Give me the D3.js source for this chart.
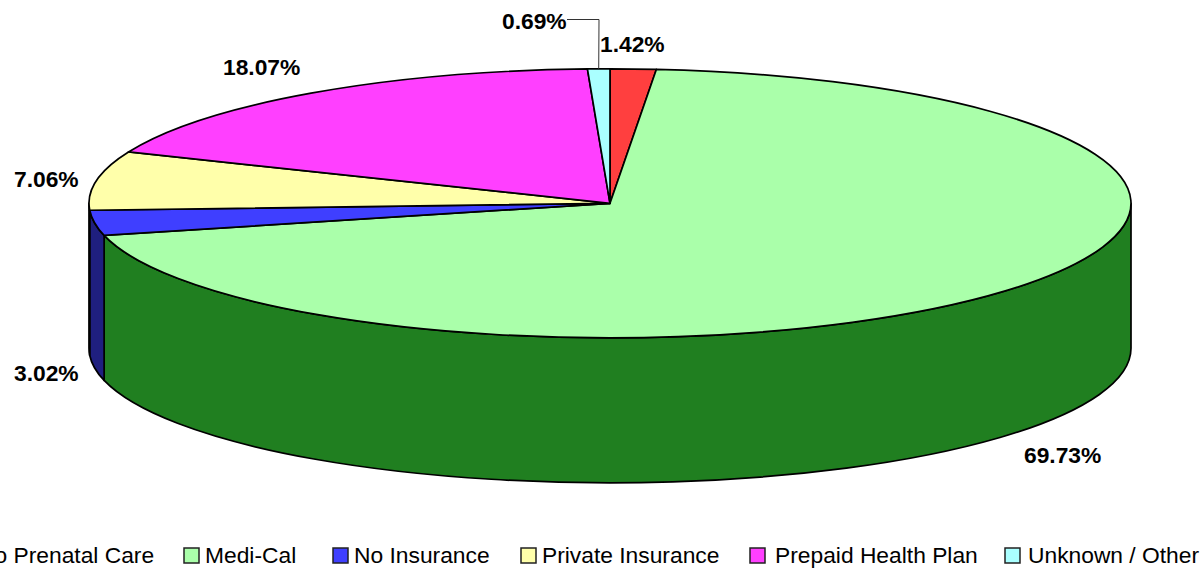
<!DOCTYPE html>
<html>
<head>
<meta charset="utf-8">
<script src="https://cdn.jsdelivr.net/npm/d3@7"></script>
<style>
html,body{margin:0;padding:0;background:#fff;overflow:hidden}
svg{display:block}
text{font-family:"Liberation Sans",Arial,sans-serif;fill:#000}
</style>
</head>
<body>
<svg id="chart" width="1203" height="569"></svg>
<script>
const categories = ["No Prenatal Care","Medi-Cal","No Insurance","Private Insurance","Prepaid Health Plan","Unknown / Other"];
const values = [1.42,69.73,3.02,7.06,18.07,0.69];
const topColors = ["#FF3F3F","#AAFFAA","#3F3FFF","#FFFFAA","#FF3FFF","#AAFFFF"];
const sideColors = ["#7F1F1F","#207F20","#1F1F7F","#7F7F55","#7F1F7F","#557F7F"];

const labelPos = [[600,52],[1024,463],[14,381],[14,187],[223,75],[502,29]];
const legendSwatchX = [-47,184,333,521,750,1005];
const legendTextX = [-22,205,354,542,775,1028];

const cx=610, cy=203.3, rx=521, ry=134.5, depth=145;
const k = ry/rx;
const svg = d3.select("#chart");
const pie = d3.pie().sort(null).value(d=>d)(values);
const arc = d3.arc().innerRadius(0).outerRadius(rx);
const g = svg.append("g").attr("transform",`translate(${cx},${cy}) scale(1,${k})`);
const lim0=Math.PI/2, lim1=3*Math.PI/2, off=-Math.PI/2;

function wall(a0,a1){
  const p=d3.path(), d=depth/k;
  p.arc(0,0,rx,a0+off,a1+off,false);
  p.arc(0,d,rx,a1+off,a0+off,true);
  p.closePath();
  return p.toString();
}
const visible = pie.map((s,i)=>({i,a0:Math.max(s.startAngle,lim0),a1:Math.min(s.endAngle,lim1)})).filter(s=>s.a1>s.a0);
g.selectAll("path.wall").data(visible).enter().append("path").attr("class","wall")
  .attr("d",s=>wall(s.a0,s.a1))
  .attr("fill",s=>sideColors[s.i]).attr("stroke","#000").attr("stroke-width",1.7)
  .attr("vector-effect","non-scaling-stroke").attr("stroke-linejoin","round");
g.selectAll("path.top").data(pie).enter().append("path").attr("class","top")
  .attr("d",arc)
  .attr("fill",(d,i)=>topColors[i]).attr("stroke","#000").attr("stroke-width",1.7)
  .attr("vector-effect","non-scaling-stroke").attr("stroke-linejoin","round");

// leader line for the smallest slice
const small = pie[5], mid=(small.startAngle+small.endAngle)/2;
const lx = cx+rx*Math.sin(mid), ly = cy-ry*Math.cos(mid);
svg.append("path").attr("d",d3.line()([[567,19.5],[599,19.5],[lx,ly]]))
  .attr("fill","none").attr("stroke","#333").attr("stroke-width",1);

const fmt=d3.format(".2f");
svg.selectAll("text.val").data(values).enter().append("text").attr("class","val")
  .attr("x",(d,i)=>labelPos[i][0]).attr("y",(d,i)=>labelPos[i][1])
  .attr("font-size",22.8).attr("font-weight","bold").text(d=>fmt(d)+"%");

const leg=svg.append("g");
categories.forEach((c,i)=>{
  leg.append("rect").attr("x",legendSwatchX[i]).attr("y",548).attr("width",15).attr("height",15)
    .attr("fill",topColors[i]).attr("stroke","#222").attr("stroke-width",1.5);
  leg.append("text").attr("x",legendTextX[i]).attr("y",563).attr("font-size",22.8).text(c);
});
</script>
</body>
</html>
